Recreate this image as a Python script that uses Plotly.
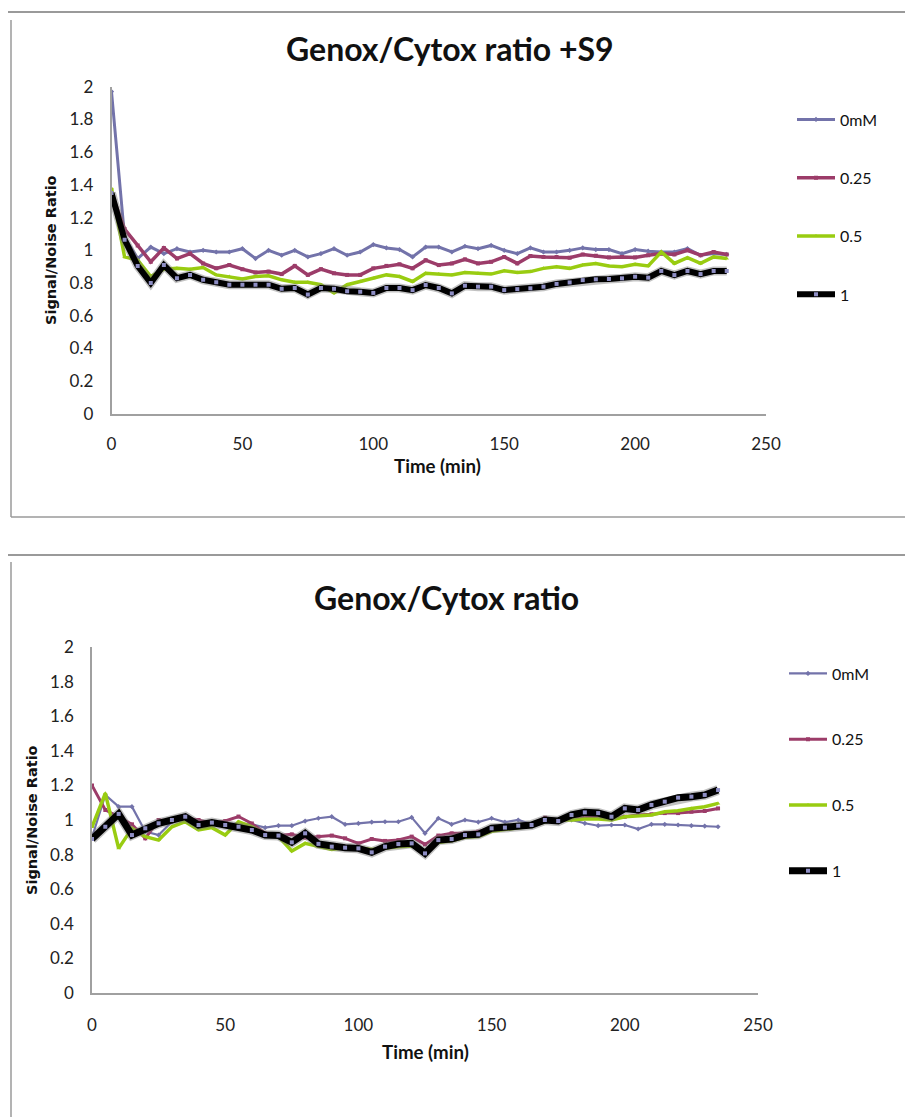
import plotly.graph_objects as go

time_min = list(range(0, 240, 5))
series_names = ["0mM", "0.25", "0.5", "1"]

s9_0mM = [1.97, 1.08, 0.95, 1.02, 0.98, 1.01, 0.99, 1.00, 0.99, 0.99, 1.01, 0.95, 1.00, 0.97, 1.00, 0.96,
          0.98, 1.01, 0.97, 0.99, 1.035, 1.015, 1.005, 0.96, 1.02, 1.02, 0.99, 1.025, 1.01, 1.03, 1.00, 0.98,
          1.015, 0.99, 0.99, 1.00, 1.015, 1.005, 1.005, 0.98, 1.005, 0.995, 0.99, 0.99, 1.01, 0.97, 0.98, 0.975]
s9_025 = [1.35, 1.13, 1.03, 0.93, 1.015, 0.95, 0.98, 0.92, 0.89, 0.91, 0.885, 0.865, 0.87, 0.855, 0.905, 0.85,
          0.885, 0.86, 0.85, 0.85, 0.89, 0.905, 0.915, 0.89, 0.94, 0.91, 0.92, 0.945, 0.92, 0.93, 0.96, 0.92,
          0.965, 0.96, 0.96, 0.955, 0.975, 0.967, 0.957, 0.96, 0.957, 0.97, 0.98, 0.975, 1.0, 0.97, 0.99, 0.975]
s9_05 = [1.38, 0.96, 0.94, 0.84, 0.885, 0.89, 0.885, 0.895, 0.85, 0.84, 0.825, 0.84, 0.845, 0.82, 0.805, 0.805,
         0.79, 0.74, 0.79, 0.81, 0.83, 0.85, 0.84, 0.81, 0.86, 0.855, 0.85, 0.865, 0.86, 0.855, 0.875, 0.865,
         0.87, 0.89, 0.90, 0.89, 0.91, 0.92, 0.905, 0.90, 0.915, 0.905, 0.99, 0.92, 0.955, 0.92, 0.96, 0.95]
s9_1 = [1.35, 1.065, 0.905, 0.80, 0.91, 0.83, 0.85, 0.82, 0.805, 0.79, 0.79, 0.79, 0.79, 0.765, 0.77, 0.73,
        0.77, 0.765, 0.75, 0.747, 0.74, 0.77, 0.77, 0.757, 0.788, 0.77, 0.737, 0.784, 0.778, 0.778, 0.757, 0.763,
        0.768, 0.778, 0.795, 0.804, 0.818, 0.823, 0.825, 0.829, 0.839, 0.833, 0.874, 0.849, 0.874, 0.855, 0.874, 0.874]

nos9_0mM = [0.90, 1.145, 1.077, 1.077, 0.933, 0.913, 0.99, 1.01, 0.98, 0.985, 0.975, 0.98, 0.975, 0.956, 0.967, 0.967,
            0.994, 1.01, 1.019, 0.975, 0.98, 0.988, 0.99, 0.99, 1.015, 0.923, 1.01, 0.975, 1.0, 0.988, 1.01, 0.988,
            1.0, 0.975, 1.0, 0.998, 1.0, 0.981, 0.967, 0.971, 0.971, 0.948, 0.975, 0.975, 0.971, 0.967, 0.965, 0.961]
nos9_025 = [1.20, 1.058, 1.019, 0.975, 0.894, 1.0, 0.994, 1.01, 1.0, 0.98, 0.994, 1.02, 0.98, 0.923, 0.91, 0.917,
            0.898, 0.904, 0.91, 0.894, 0.865, 0.89, 0.879, 0.884, 0.904, 0.859, 0.91, 0.923, 0.923, 0.933, 0.952, 0.961,
            0.971, 0.975, 1.013, 1.0, 1.01, 1.013, 1.019, 1.01, 1.019, 1.029, 1.033, 1.04, 1.04, 1.048, 1.052, 1.067]
nos9_05 = [0.96, 1.154, 0.836, 0.952, 0.904, 0.884, 0.961, 0.99, 0.942, 0.956, 0.913, 0.99, 0.961, 0.913, 0.904, 0.821,
           0.865, 0.85, 0.83, 0.84, 0.84, 0.83, 0.84, 0.845, 0.85, 0.82, 0.87, 0.88, 0.90, 0.905, 0.935, 0.945,
           0.955, 0.965, 0.99, 1.0, 1.0, 1.006, 1.006, 1.0, 1.019, 1.025, 1.029, 1.048, 1.054, 1.067, 1.077, 1.096]
nos9_1 = [0.89, 0.961, 1.035, 0.913, 0.952, 0.981, 1.0, 1.019, 0.971, 0.985, 0.971, 0.961, 0.942, 0.913, 0.91, 0.871,
          0.923, 0.862, 0.846, 0.84, 0.836, 0.813, 0.846, 0.861, 0.865, 0.807, 0.884, 0.89, 0.913, 0.917, 0.952, 0.956,
          0.967, 0.971, 1.0, 0.994, 1.029, 1.044, 1.04, 1.019, 1.067, 1.058, 1.087, 1.106, 1.129, 1.135, 1.145, 1.173]

x_ticks = [0, 50, 100, 150, 200, 250]
y_ticks = [0, 0.2, 0.4, 0.6, 0.8, 1, 1.2, 1.4, 1.6, 1.8, 2]
y_ticktext = ["0", "0.2", "0.4", "0.6", "0.8", "1", "1.2", "1.4", "1.6", "1.8", "2"]

W, H = 905, 1117
def px(x): return x / W
def py(y): return 1 - y / H

colors = ["#7373AA", "#9C3C69", "#99CC11", "#000000"]
symbols = ["diamond", "square", "triangle-up", "square"]

fig = go.Figure()

panels = [
    dict(data=[s9_0mM, s9_025, s9_05, s9_1], xa="x", ya="y", legend="legend",
         widths=[3, 3.5, 3.5, 6]),
    dict(data=[nos9_0mM, nos9_025, nos9_05, nos9_1], xa="x2", ya="y2", legend="legend2",
         widths=[2.2, 3, 3.5, 7]),
]

for p in panels:
    for i, (name, vals) in enumerate(zip(series_names, p["data"])):
        if i == 3:
            fig.add_trace(go.Scatter(x=time_min, y=vals, mode="lines", xaxis=p["xa"], yaxis=p["ya"],
                                     line=dict(color="rgba(120,120,120,0.45)", width=p["widths"][i] + 3),
                                     showlegend=False, hoverinfo="skip"))
            marker = dict(symbol="square", size=4, color="#8E8EC4")
        else:
            marker = dict(symbol=symbols[i], size=4, color=colors[i])
        fig.add_trace(go.Scatter(x=time_min, y=vals, name=name, mode="lines+markers",
                                 xaxis=p["xa"], yaxis=p["ya"], legend=p["legend"],
                                 line=dict(color=colors[i], width=p["widths"][i]),
                                 marker=marker, legendgroup=p["legend"] + name))

axis_common = dict(showgrid=False, zeroline=False, showline=True, linecolor="#A0A0A0", linewidth=1.5,
                   ticks="", automargin=False, tickfont=dict(family="Lato", size=17, color="#222"))

fig.update_layout(
    width=W, height=H, margin=dict(l=0, r=0, t=0, b=0, autoexpand=False),
    paper_bgcolor="white", plot_bgcolor="white",
    xaxis=dict(domain=[px(111.5), px(766)], anchor="y", range=[0, 250], tickvals=x_ticks,
               ticklabelstandoff=14, **axis_common),
    yaxis=dict(domain=[py(414), py(86.7)], anchor="x", range=[0, 2], tickvals=y_ticks, ticktext=y_ticktext,
               ticklabelstandoff=13, **axis_common),
    xaxis2=dict(domain=[px(92), px(758)], anchor="y2", range=[0, 250], tickvals=x_ticks,
                ticklabelstandoff=16, **axis_common),
    yaxis2=dict(domain=[py(993), py(647)], anchor="x2", range=[0, 2], tickvals=y_ticks, ticktext=y_ticktext,
                ticklabelstandoff=13, **axis_common),
    legend=dict(x=px(792), y=py(102.5), xanchor="left", yanchor="top", tracegroupgap=34.5, itemwidth=38,
                font=dict(family="Lato", size=16, color="#111"), bgcolor="rgba(0,0,0,0)"),
    legend2=dict(x=px(784), y=py(656.5), xanchor="left", yanchor="top", tracegroupgap=42, itemwidth=38,
                 font=dict(family="Lato", size=16, color="#111"), bgcolor="rgba(0,0,0,0)"),
    showlegend=True,
)

annotations = [
    dict(text="<b>Genox/Cytox ratio +S9</b>", x=px(450), y=py(48), font=dict(family="Lato", size=32, color="#111")),
    dict(text="<b>Genox/Cytox ratio</b>", x=px(446), y=py(597), font=dict(family="Lato", size=32, color="#111")),
    dict(text="<b>Time (min)</b>", x=px(437), y=py(466), font=dict(family="Lato", size=18.7, color="#111")),
    dict(text="<b>Time (min)</b>", x=px(425), y=py(1052), font=dict(family="Lato", size=18.7, color="#111")),
    dict(text="<b>Signal/Noise Ratio</b>", x=px(51), y=py(250), textangle=-90,
         font=dict(family="DejaVu Sans", size=14.5, color="#111")),
    dict(text="<b>Signal/Noise Ratio</b>", x=px(32), y=py(820), textangle=-90,
         font=dict(family="DejaVu Sans", size=14.5, color="#111")),
]
for a in annotations:
    a.update(xref="paper", yref="paper", showarrow=False, xanchor="center", yanchor="middle")

frame = "#9A9A9A"
shapes = [
    dict(x0=px(8), x1=1, y0=py(12), y1=py(12), line=dict(color=frame, width=2)),
    dict(x0=px(11), x1=px(11), y0=py(20), y1=py(517), line=dict(color=frame, width=1.5)),
    dict(x0=px(11), x1=1, y0=py(517), y1=py(517), line=dict(color=frame, width=1.5)),
    dict(x0=px(8), x1=1, y0=py(555), y1=py(555), line=dict(color=frame, width=2)),
    dict(x0=px(11), x1=px(11), y0=py(562), y1=0, line=dict(color=frame, width=1.5)),
]
for s in shapes:
    s.update(type="line", xref="paper", yref="paper")
fig.update_layout(shapes=shapes, annotations=annotations)

fig.write_html("out.html")
